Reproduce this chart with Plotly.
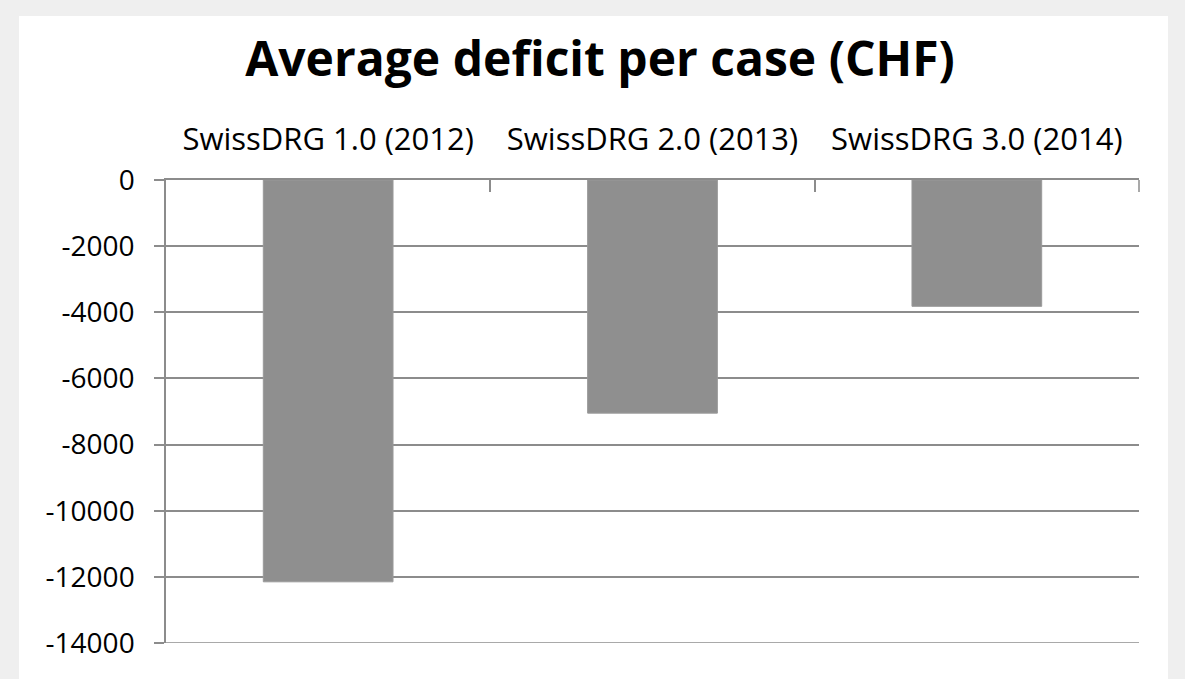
import plotly.graph_objects as go

categories = ["SwissDRG 1.0 (2012)", "SwissDRG 2.0 (2013)", "SwissDRG 3.0 (2014)"]
deficit = [-12150, -7050, -3820]
ytick_vals = [0, -2000, -4000, -6000, -8000, -10000, -12000, -14000]
ytick_text = ["0", "-2000", "-4000", "-6000", "-8000", "-10000", "-12000", "-14000"]

W, H = 1185, 679
GRID = "#8c8c8c"
fig = go.Figure()
fig.add_trace(go.Bar(
    x=categories, y=deficit,
    marker=dict(color="#8f8f8f", line=dict(color="#9a9a9a", width=1)),
    showlegend=False,
))

fig.update_layout(
    width=W, height=H,
    paper_bgcolor="#efefef",
    plot_bgcolor="white",
    margin=dict(l=166, r=46, t=180, b=36),
    bargap=0.6,
    font=dict(family="Open Sans", color="black"),
    title=dict(text="<b>Average deficit per case (CHF)</b>",
               x=600 / W, xanchor="center", xref="container",
               y=1 - 59 / H, yanchor="middle",
               font=dict(size=48, family="Open Sans", color="black")),
    shapes=[
        dict(type="rect", xref="paper", yref="paper", layer="below",
             x0=-147 / 973, x1=(1168 - 166) / 973,
             y0=-36 / 463, y1=1 + (180 - 16) / 463,
             fillcolor="white", line=dict(width=0)),
        # bottom gridline at the range edge
        dict(type="line", xref="paper", yref="y", layer="above",
             x0=0, x1=1, y0=min(ytick_vals), y1=min(ytick_vals),
             line=dict(color=GRID, width=1.5)),
        # right-hand tick of the category axis
        dict(type="line", xref="paper", yref="paper", layer="above",
             x0=1, x1=1, y0=1, y1=1 - 12 / 463,
             line=dict(color=GRID, width=1.5)),
    ],
)
fig.update_xaxes(
    side="top", tickson="boundaries", ticks="inside", ticklen=12,
    tickcolor=GRID, tickwidth=1.5,
    showline=True, linecolor=GRID, linewidth=1.5,
    showgrid=False, tickfont=dict(size=31), ticklabelstandoff=16,
)
fig.update_yaxes(
    range=[-14000, 0], tickvals=ytick_vals, ticktext=ytick_text,
    ticks="outside", ticklen=10, tickcolor=GRID, tickwidth=1.5,
    showline=True, linecolor=GRID, linewidth=1.5,
    showgrid=True, gridcolor=GRID, gridwidth=1.5,
    zeroline=False, tickfont=dict(size=28), ticklabelstandoff=14,
)
fig.write_html(
    "out.html",
    config={"displayModeBar": False},
    post_script="document.body.style.margin='0';document.body.style.background='#efefef';",
)
